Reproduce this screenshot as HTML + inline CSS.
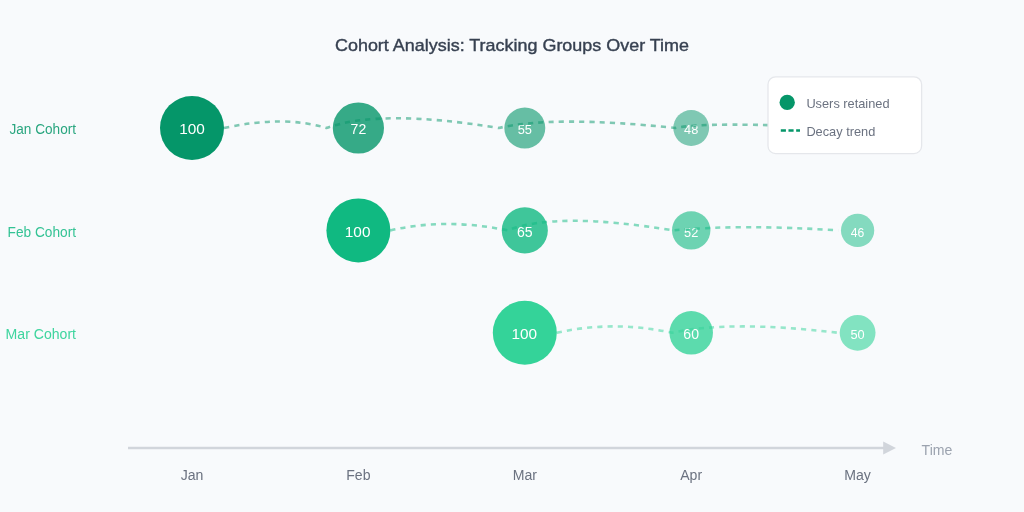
<!DOCTYPE html>
<html>
<head>
<meta charset="utf-8">
<style>
html,body{margin:0;padding:0;background:#f8fafc;}
body{width:1024px;height:512px;overflow:hidden;}
svg{display:block;will-change:transform;}
text{font-family:"Liberation Sans",Arial,sans-serif;}
</style>
</head>
<body>
<svg width="1024" height="512" viewBox="0 0 800 400" xmlns="http://www.w3.org/2000/svg">
  <rect x="0" y="0" width="800" height="400" fill="#f8fafc"/>

  <!-- Title -->
  <text x="0" y="40" text-anchor="middle" font-size="13.3" font-weight="400" fill="#374151" stroke="#374151" stroke-width="0.3" transform="translate(400,0) scale(1.055,1)">Cohort Analysis: Tracking Groups Over Time</text>

  <!-- Cohort labels -->
  <text x="59.4" y="105" text-anchor="end" font-size="11" fill="#059669" fill-opacity="0.85" textLength="52" lengthAdjust="spacingAndGlyphs">Jan Cohort</text>
  <text x="59.4" y="185" text-anchor="end" font-size="11" fill="#10b981" fill-opacity="0.85" textLength="53.5" lengthAdjust="spacingAndGlyphs">Feb Cohort</text>
  <text x="59.4" y="265" text-anchor="end" font-size="11" fill="#34d399" fill-opacity="0.95">Mar Cohort</text>

  <!-- Row 1: Jan cohort -->
  <g>
    <circle cx="150" cy="100" r="25" fill="#059669"/>
    <text x="150" y="105" text-anchor="middle" font-size="12" fill="#fff">100</text>
    <circle cx="280" cy="100" r="20" fill="#059669" opacity="0.8"/>
    <text x="280" y="105" text-anchor="middle" font-size="11" fill="#fff">72</text>
    <circle cx="410" cy="100" r="16" fill="#059669" opacity="0.6"/>
    <text x="410" y="105" text-anchor="middle" font-size="10" fill="#fff">55</text>
    <circle cx="540" cy="100" r="14" fill="#059669" opacity="0.5"/>
    <text x="540" y="105" text-anchor="middle" font-size="10" fill="#fff">48</text>
    <path d="M175,100 Q221.8,89.8 254.9,100 Q297,84.8 389.6,100 Q433.1,90 527.5,100 Q553,94.7 655,100" fill="none" stroke="#059669" stroke-width="2" stroke-dasharray="4 4" opacity="0.5"/>
  </g>

  <!-- Row 2: Feb cohort -->
  <g>
    <circle cx="280" cy="180" r="25" fill="#10b981"/>
    <text x="279.4" y="185" text-anchor="middle" font-size="12" fill="#fff">100</text>
    <circle cx="410" cy="180" r="18" fill="#10b981" opacity="0.8"/>
    <text x="410" y="185" text-anchor="middle" font-size="11" fill="#fff">65</text>
    <circle cx="540" cy="180" r="15" fill="#10b981" opacity="0.6"/>
    <text x="540" y="185" text-anchor="middle" font-size="10" fill="#fff">52</text>
    <circle cx="670" cy="180" r="13" fill="#10b981" opacity="0.5"/>
    <text x="670" y="185" text-anchor="middle" font-size="9.5" fill="#fff">46</text>
    <path d="M305,180 Q348.2,170 396.6,180 Q434.8,165 525.7,180 Q578.7,175 655,180" fill="none" stroke="#10b981" stroke-width="2" stroke-dasharray="4 4" opacity="0.5"/>
  </g>

  <!-- Row 3: Mar cohort -->
  <g>
    <circle cx="410" cy="260" r="25" fill="#34d399"/>
    <text x="409.6" y="265" text-anchor="middle" font-size="12" fill="#fff">100</text>
    <circle cx="540" cy="260" r="17" fill="#34d399" opacity="0.8"/>
    <text x="540" y="265" text-anchor="middle" font-size="11" fill="#fff">60</text>
    <circle cx="670" cy="260" r="14" fill="#34d399" opacity="0.6"/>
    <text x="670" y="265" text-anchor="middle" font-size="10" fill="#fff">50</text>
    <path d="M435,260 Q479,250 525,260 Q570.5,250 655,260" fill="none" stroke="#34d399" stroke-width="2" stroke-dasharray="4 4" opacity="0.5"/>
  </g>

  <!-- Axis -->
  <line x1="100" y1="350" x2="692" y2="350" stroke="#d1d5db" stroke-width="2"/>
  <polygon points="690,345 700,350 690,355" fill="#d1d5db"/>
  <text x="720" y="355.5" font-size="11" fill="#9ca3af">Time</text>

  <text x="150" y="375" text-anchor="middle" font-size="11" fill="#6b7280">Jan</text>
  <text x="280" y="375" text-anchor="middle" font-size="11" fill="#6b7280">Feb</text>
  <text x="410" y="375" text-anchor="middle" font-size="11" fill="#6b7280">Mar</text>
  <text x="540" y="375" text-anchor="middle" font-size="11" fill="#6b7280">Apr</text>
  <text x="670" y="375" text-anchor="middle" font-size="11" fill="#6b7280">May</text>

  <!-- Legend -->
  <rect x="600" y="60" width="120" height="60" rx="6" fill="#ffffff" stroke="#e5e7eb" stroke-width="1"/>
  <circle cx="615" cy="80" r="6" fill="#059669"/>
  <text x="630" y="84" font-size="10" fill="#6b7280">Users retained</text>
  <line x1="610" y1="102" x2="625" y2="102" stroke="#059669" stroke-width="2" stroke-dasharray="4 2"/>
  <text x="630" y="106" font-size="10" fill="#6b7280">Decay trend</text>
</svg>
</body>
</html>
